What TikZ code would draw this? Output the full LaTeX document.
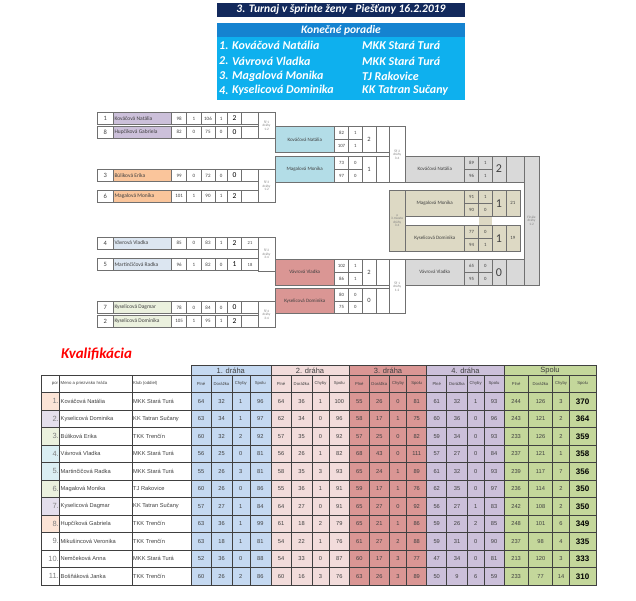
\documentclass[tikz,border=0pt]{standalone}
\usepackage{fontspec}
\setmainfont{Carlito}
\newfontfamily\arialf{Liberation Sans}
\definecolor{navy}{HTML}{12295C}
\definecolor{kband}{HTML}{1583D0}
\definecolor{krows}{HTML}{0EB0EE}
\definecolor{nPurple}{HTML}{CCC0DA}
\definecolor{nOrange}{HTML}{FAC59B}
\definecolor{nBlue}{HTML}{DCE6F1}
\definecolor{nGreen}{HTML}{EBF1DE}
\definecolor{sBlue}{HTML}{B3DDE7}
\definecolor{sRed}{HTML}{DA9694}
\definecolor{tanc}{HTML}{DDD9C4}
\definecolor{fGray}{HTML}{D9D9D9}
\definecolor{grp0}{HTML}{C5D9F1}
\definecolor{grp1}{HTML}{F2DCDB}
\definecolor{grp2}{HTML}{DA9694}
\definecolor{grp3}{HTML}{CCC0DA}
\definecolor{grp4}{HTML}{C4D79B}
\definecolor{pOr}{HTML}{FCE4D6}
\definecolor{pLav}{HTML}{E4DFEC}
\definecolor{pGrn}{HTML}{EBF1DE}
\definecolor{pBlu}{HTML}{DAEEF3}
\definecolor{brd}{HTML}{707070}
\definecolor{tgrid}{HTML}{404040}
\definecolor{txtg}{HTML}{404040}
\newcommand\fsz[1]{\fontsize{#1}{#1}\selectfont}
\newcounter{cellno}
\newcommand\tnode[3]{\stepcounter{cellno}\node[#1] (n\arabic{cellno}) at (#2) {#3};}
\tikzset{
  brline/.style={draw=brd, line width=0.6pt},
  tline/.style={draw=tgrid, line width=0.5pt},
  txt/.style={inner sep=0pt, align=center, text=txtg},
}
\begin{document}
\begin{tikzpicture}[x=1pt,y=-1pt]
\useasboundingbox (0,0) rectangle (636,600);
\fill[white] (0,0) rectangle (636,600);

% ---------- header ----------
\fill[navy] (217,2.7) rectangle (465,16.7);
\tnode{txt,text=white,font=\fsz{11.5}\bfseries\itshape}{341,9.9}{3. Turnaj v šprinte ženy - Piešťany 16.2.2019}
\fill[kband] (217,22.7) rectangle (465,37.3);
\fill[krows] (217,37.3) rectangle (465,100);
\tnode{txt,text=white,font=\fsz{11.5}\bfseries\itshape}{341,30.3}{Konečné poradie}
\foreach \y/\kk/\n/\c in {45.7/1./Kováčová Natália/MKK Stará Turá, 61/2./Vávrová Vladka/MKK Stará Turá, 76/3./Magalová Monika/TJ Rakovice, 90.3/4./Kyselicová Dominika/KK Tatran Sučany}{
  \tnode{txt,text=white,anchor=west,font=\fsz{12}\bfseries\itshape}{219,\y}{\kk}
  \tnode{txt,text=white,anchor=west,font=\fsz{12}\bfseries\itshape}{232,\y}{\n}
  \tnode{txt,text=white,anchor=west,font=\fsz{12}\bfseries\itshape}{362,\y}{\c}
}

% ---------- round 1 ----------
\foreach \ya/\yb/\sd/\nm/\fc/\sa/\sb/\sc/\sdd/\res/\tb in {
 112.5/124.5/1/Kováčová Natália/nPurple/98/1/106/1/2/{},
 126/138/8/Hupčíková Gabriela/nPurple/82/0/75/0/0/{},
 169.5/181.5/3/Búliková Erika/nOrange/99/0/72/0/0/{},
 190/202/6/Magalová Monika/nOrange/101/1/90/1/2/{},
 237/249/4/Vávrová Vladka/nBlue/85/0/83/1/2/21,
 258.5/270.5/5/Martinčičová Radka/nBlue/96/1/82/0/1/18,
 301.5/313.5/7/Kyselicová Dagmar/nGreen/78/0/84/0/0/{},
 315/327/2/Kyselicová Dominika/nGreen/105/1/95/1/2/{}}{
  \pgfmathsetmacro\yc{(\ya+\yb)/2}
  \draw[brline] (97.3,\ya) rectangle (113.3,\yb);
  \draw[brline,fill=\fc] (113.3,\ya) rectangle (171.7,\yb);
  \foreach \xl/\xr in {171.7/186.7,186.7/201,201/215,215/227.3,227.3/241.7,241.7/258.3}
    \draw[brline] (\xl,\ya) rectangle (\xr,\yb);
  \tnode{txt,font=\fsz{6.5}}{105.3,\yc}{\sd}
  \tnode{txt,anchor=west,font=\fsz{5.5}}{114.3,\yc}{\nm}
  \tnode{txt,font=\fsz{5}}{179.2,\yc}{\sa}
  \tnode{txt,font=\fsz{5}}{193.85,\yc}{\sb}
  \tnode{txt,font=\fsz{5}}{208,\yc}{\sc}
  \tnode{txt,font=\fsz{5}}{221.15,\yc}{\sdd}
  \tnode{txt,text=black,font=\fsz{7.5}}{234.5,\yc}{\res}
  \tnode{txt,font=\fsz{4.5}}{250,\yc}{\tb}
}
% round 1 sub-final labels
\foreach \ya/\yb/\lab in {112.5/138.5/{Šf 1\\dráhy\\1-2}, 169.5/202/{Šf 3\\dráhy\\1-2}, 237/271/{Šf 2\\dráhy\\3-4}, 301.5/327/{Šf 4\\dráhy\\3-4}}{
  \draw[brline,fill=white] (258.3,\ya) rectangle (275,\yb);
  \pgfmathsetmacro\yc{(\ya+\yb)/2}
  \tnode{txt,text=gray,font=\fsz{3.4}}{266.6,\yc}{\lab}
}

% ---------- semis, final, 3rd place ----------
\foreach \xo/\ya/\ym/\yb/\nm/\fc/\scf/\sa/\sb/\sc/\sdd/\res/\rf/\ew/\tb in {
 275/126.7/139.7/152.7/Kováčová Natália/sBlue/white/82/1/107/1/2/6.5/13.3/{},
 275/156/169/182/Magalová Monika/sBlue/white/73/0/97/0/1/6.5/13.3/{},
 275/259.3/272.2/285/Vávrová Vladka/sRed/white/102/1/86/1/2/6.5/13.3/{},
 275/288.3/300.8/313.3/Kyselicová Dominika/sRed/white/80/0/75/0/0/6.5/13.3/{},
 405/156/169/182/Kováčová Natália/fGray/fGray/89/1/96/1/2/12/18/{},
 405/259.3/272.2/285/Vávrová Vladka/fGray/fGray/65/0/95/0/0/12/18/{},
 405/190/203.3/216.7/Magalová Monika/tanc/tanc/91/1/90/0/1/12/14/21,
 405/225/238.3/251.7/Kyselicová Dominika/tanc/tanc/77/0/94/1/1/12/14/19}{
  \pgfmathsetmacro\yc{(\ya+\yb)/2}
  \pgfmathsetmacro\ycA{(\ya+\ym)/2}
  \pgfmathsetmacro\ycB{(\ym+\yb)/2}
  \pgfmathsetmacro\xa{\xo+59.5}
  \pgfmathsetmacro\xb{\xo+73.5}
  \pgfmathsetmacro\xc{\xo+87}
  \pgfmathsetmacro\xd{\xo+100.8}
  \pgfmathsetmacro\xe{\xd+\ew}
  \draw[brline,fill=\fc] (\xo,\ya) rectangle (\xa,\yb);
  \draw[brline,fill=\scf] (\xa,\ya) rectangle (\xb,\ym);
  \draw[brline,fill=\scf] (\xb,\ya) rectangle (\xc,\ym);
  \draw[brline,fill=\scf] (\xa,\ym) rectangle (\xb,\yb);
  \draw[brline,fill=\scf] (\xb,\ym) rectangle (\xc,\yb);
  \draw[brline,fill=\scf] (\xc,\ya) rectangle (\xd,\yb);
  \draw[brline,fill=\scf] (\xd,\ya) rectangle (\xe,\yb);
  \pgfmathsetmacro\xn{(\xo+\xa)/2}
  \pgfmathsetmacro\xsa{(\xa+\xb)/2}
  \pgfmathsetmacro\xsb{(\xb+\xc)/2}
  \pgfmathsetmacro\xr{(\xc+\xd)/2}
  \pgfmathsetmacro\xt{(\xd+\xe)/2}
  \tnode{txt,font=\fsz{5}}{\xn,\yc}{\nm}
  \tnode{txt,font=\fsz{4.8}}{\xsa,\ycA}{\sa}
  \tnode{txt,font=\fsz{4.8}}{\xsb,\ycA}{\sb}
  \tnode{txt,font=\fsz{4.8}}{\xsa,\ycB}{\sc}
  \tnode{txt,font=\fsz{4.8}}{\xsb,\ycB}{\sdd}
  \tnode{txt,font=\fsz{\rf}}{\xr,\yc}{\res}
  \tnode{txt,font=\fsz{4.8}}{\xt,\yc}{\tb}
}
\fill[tanc] (478.8,217) rectangle (491.7,224.7);
\draw[brline,fill=white] (389.3,126.7) rectangle (405,182);
\tnode{txt,text=gray,font=\fsz{3.4}}{397.2,154.3}{ŠF 2\\dráhy\\3-4}
\draw[brline,fill=white] (389.3,259.3) rectangle (405,313.3);
\tnode{txt,text=gray,font=\fsz{3.4}}{397.2,286.3}{ŠF 1\\dráhy\\1-2}
\draw[brline,fill=tanc] (389.3,190) rectangle (405,251.7);
\tnode{txt,text=gray,font=\fsz{3.4}}{397.2,220.8}{o\\3.miesto\\dráhy\\3-4}
\draw[brline,fill=fGray] (523.8,156) rectangle (539.3,285);
\tnode{txt,text=gray,font=\fsz{3.4}}{531.5,220.5}{Finále\\dráhy\\1-2}

% ---------- qualification ----------
\tnode{anchor=base west,inner sep=0pt,text=red,font=\fsz{15}\bfseries\itshape}{61,358.5}{Kvalifikácia}

\begin{scope}[font=\arialf]
\foreach \xs/\xe/\g/\lab in {190.8/270.8/0/1. dráha, 270.8/349.3/1/2. dráha, 349.3/426.7/2/3. dráha, 426.7/504/3/4. dráha, 504/596/4/Spolu}{
  \draw[tline,fill=grp\g] (\xs,365) rectangle (\xe,375);
  \pgfmathsetmacro\xm{(\xs+\xe)/2}
  \tnode{txt,font=\arialf\fsz{7.5}}{\xm,370.3}{\lab}
}
\draw[tline] (41.7,375) rectangle (59.3,392.5);
\draw[tline] (59.3,375) rectangle (132,392.5);
\draw[tline] (132,375) rectangle (190.8,392.5);
\tnode{txt,anchor=east,font=\arialf\fsz{4.3}}{58.3,383.7}{por}
\tnode{txt,anchor=west,font=\arialf\fsz{4.3}}{60.5,383.7}{Meno a priezvisko hráča}
\tnode{txt,anchor=west,font=\arialf\fsz{4.3}}{133,383.7}{Klub (oddiel)}
\foreach \k in {1,...,20}{
  \pgfmathsetmacro\xl{{190.8,211.2,231.8,249.8,270.8,291.3,311.8,329.3,349.3,369.3,389.3,406.7,426.7,446.7,467.3,484.0,504.0,528.3,552.7,569.3,596.0}[\k-1]}
  \pgfmathsetmacro\xr{{190.8,211.2,231.8,249.8,270.8,291.3,311.8,329.3,349.3,369.3,389.3,406.7,426.7,446.7,467.3,484.0,504.0,528.3,552.7,569.3,596.0}[\k]}
  \pgfmathtruncatemacro\g{(\k-1)/4}
  \pgfmathtruncatemacro\m{mod(\k-1,4)}
  \pgfmathsetmacro\xm{(\xl+\xr)/2}
  \draw[tline,fill=grp\g] (\xl,375) rectangle (\xr,392.5);
  \tnode{txt,font=\arialf\fsz{4.2}}{\xm,383.7}{\ifcase\m Plné\or Dorážka\or Chyby\or Spolu\fi}
}
\foreach \rw/\nm/\cl/\pc/\vals in {
 1/Kováčová Natália/MKK Stará Turá/pOr/{64,32,1,96,64,36,1,100,55,26,0,81,61,32,1,93,244,126,3,370},
 2/Kyselicová Dominika/KK Tatran Sučany/pLav/{63,34,1,97,62,34,0,96,58,17,1,75,60,36,0,96,243,121,2,364},
 3/Búliková Erika/TKK Trenčín/pGrn/{60,32,2,92,57,35,0,92,57,25,0,82,59,34,0,93,233,126,2,359},
 4/Vávrová Vladka/MKK Stará Turá/pBlu/{56,25,0,81,56,26,1,82,68,43,0,111,57,27,0,84,237,121,1,358},
 5/Martinčičová Radka/MKK Stará Turá/pBlu/{55,26,3,81,58,35,3,93,65,24,1,89,61,32,0,93,239,117,7,356},
 6/Magalová Monika/TJ Rakovice/pGrn/{60,26,0,86,55,36,1,91,59,17,1,76,62,35,0,97,236,114,2,350},
 7/Kyselicová Dagmar/KK Tatran Sučany/pLav/{57,27,1,84,64,27,0,91,65,27,0,92,56,27,1,83,242,108,2,350},
 8/Hupčíková Gabriela/TKK Trenčín/pOr/{63,36,1,99,61,18,2,79,65,21,1,86,59,26,2,85,248,101,6,349},
 9/Mikušincová Veronika/TKK Trenčín/white/{63,18,1,81,54,22,1,76,61,27,2,88,59,31,0,90,237,98,4,335},
 10/Nemčeková Anna/MKK Stará Turá/white/{52,36,0,88,54,33,0,87,60,17,3,77,47,34,0,81,213,120,3,333},
 11/Bošňáková Janka/TKK Trenčín/white/{60,26,2,86,60,16,3,76,63,26,3,89,50,9,6,59,233,77,14,310}}{
  \pgfmathsetmacro\ya{392.5+(\rw-1)*17.5}
  \pgfmathsetmacro\yb{\ya+17.5}
  \pgfmathsetmacro\yc{\ya+8.75}
  \draw[tline,fill=\pc] (41.7,\ya) rectangle (59.3,\yb);
  \draw[tline] (59.3,\ya) rectangle (132,\yb);
  \draw[tline] (132,\ya) rectangle (190.8,\yb);
  \tnode{txt,anchor=east,text=gray,font=\arialf\fsz{7.5}}{59,\yc}{\rw.}
  \tnode{txt,anchor=west,font=\arialf\fsz{5.7}}{60.5,\yc}{\nm}
  \tnode{txt,anchor=west,font=\arialf\fsz{5.7}}{133,\yc}{\cl}
  \foreach \v [count=\k] in \vals {
    \pgfmathsetmacro\xl{{190.8,211.2,231.8,249.8,270.8,291.3,311.8,329.3,349.3,369.3,389.3,406.7,426.7,446.7,467.3,484.0,504.0,528.3,552.7,569.3,596.0}[\k-1]}
    \pgfmathsetmacro\xr{{190.8,211.2,231.8,249.8,270.8,291.3,311.8,329.3,349.3,369.3,389.3,406.7,426.7,446.7,467.3,484.0,504.0,528.3,552.7,569.3,596.0}[\k]}
    \pgfmathtruncatemacro\g{(\k-1)/4}
    \pgfmathsetmacro\xm{(\xl+\xr)/2}
    \draw[tline,fill=grp\g] (\xl,\ya) rectangle (\xr,\yb);
    \ifnum\k=20
      \tnode{txt,text=black,font=\arialf\bfseries\fsz{8}}{\xm,\yc}{\v}
    \else
      \tnode{txt,font=\arialf\fsz{5.7}}{\xm,\yc}{\v}
    \fi
  }
}
\end{scope}
\end{tikzpicture}
\end{document}
